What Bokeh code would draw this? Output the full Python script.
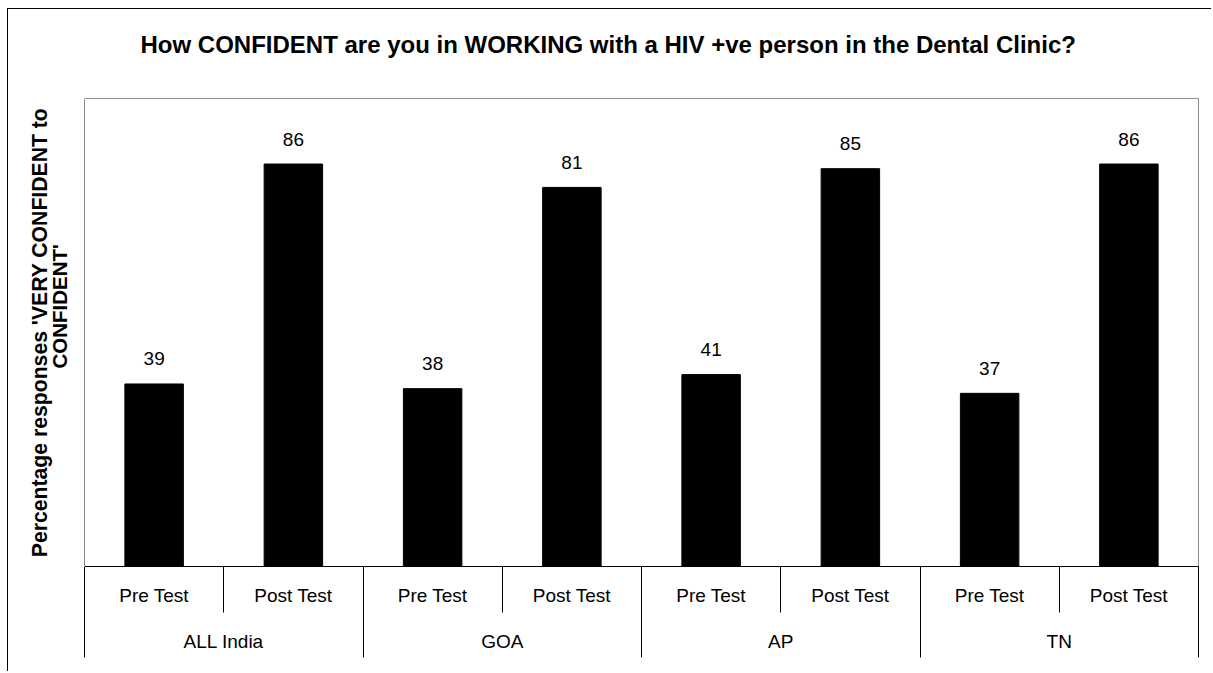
from bokeh.plotting import figure
from bokeh.models import (FactorRange, Range1d, LinearAxis,
                          FixedTicker, Title, ColumnDataSource)
from bokeh.core.properties import value
from bokeh.embed import file_html
from bokeh.resources import INLINE

# ---------------- data ----------------
title_text = "How CONFIDENT are you in WORKING with a HIV +ve person in the Dental Clinic?"
y_title_line1 = "Percentage responses 'VERY CONFIDENT to"
y_title_line2 = "CONFIDENT'"
regions = ["ALL India", "GOA", "AP", "TN"]
tests = ["Pre Test", "Post Test"]
pre_test = [39, 38, 41, 37]
post_test = [86, 81, 85, 86]

# ---------------- build ----------------
factors = [(r, t) for r in regions for t in tests]
values = []
for a, b in zip(pre_test, post_test):
    values += [a, b]
n = len(factors)
n_sub = len(tests)

FONT = "Liberation Sans"

src = ColumnDataSource(dict(x=factors, top=values, label=[str(v) for v in values]))

p = figure(width=1204, height=663,
           x_range=FactorRange(*factors, factor_padding=0, group_padding=0,
                               subgroup_padding=0, range_padding=0),
           y_range=Range1d(0, 100),
           x_axis_location=None, y_axis_location=None,
           toolbar_location=None, output_backend="svg",
           min_border_left=76, min_border_right=14,
           min_border_top=89, min_border_bottom=106,
           styles={"border-left": "1px solid black", "border-top": "1px solid black",
                   "margin-left": "7px", "margin-top": "8px"})
p.background_fill_color = "white"
p.border_fill_color = "white"
p.outline_line_color = "#8c8c8c"
p.outline_line_width = 1
p.grid.visible = False

p.vbar(x="x", top="top", width=0.42, source=src, fill_color="black", line_color="black")
p.text(x="x", y="top", text="label", source=src, text_align="center",
       text_baseline="alphabetic", y_offset=-25, text_font=value(FONT),
       text_font_size="19px", text_color="black")


def spacer_axis(gap):
    # invisible axis used only to reserve space between the frame and a title
    return LinearAxis(ticker=FixedTicker(ticks=[0]),
                      major_tick_out=gap, major_tick_in=0, major_label_standoff=0,
                      major_label_text_font_size="0px", major_label_text_color=None,
                      axis_line_color=None, major_tick_line_color="white",
                      minor_tick_line_color=None)


# --- spacer above + title
p.add_layout(spacer_axis(41), "above")
p.add_layout(Title(text=title_text, align="left", offset=56, standoff=0,
                   text_font=FONT, text_font_size="24px", text_font_style="bold",
                   text_color="black", vertical_align="bottom"), "above")

# --- spacer left + y titles
p.add_layout(spacer_axis(19), "left")
p.add_layout(Title(text=y_title_line2, align="left", offset=198, standoff=-10,
                   text_font=FONT, text_font_size="20.5px", text_font_style="bold",
                   text_color="black", vertical_align="bottom"), "left")
p.add_layout(Title(text=y_title_line1, align="center", offset=0, standoff=0,
                   text_font=FONT, text_font_size="21.2px", text_font_style="bold",
                   text_color="black", vertical_align="bottom"), "left")

# --- category axes below (synthetic factor coordinates: one unit per bar slot)
sub_axis = LinearAxis(
    ticker=FixedTicker(ticks=[i + 0.5 for i in range(n)], minor_ticks=list(range(n + 1))),
    major_label_overrides={i + 0.5: f[1] for i, f in enumerate(factors)},
    major_tick_out=0, major_tick_in=0, major_label_standoff=-28,
    major_tick_line_color=None,
    minor_tick_out=46, minor_tick_in=0, minor_tick_line_color="black",
    axis_line_color="black",
    major_label_text_font=FONT, major_label_text_font_size="19px",
    major_label_text_color="black")
p.add_layout(sub_axis, "below")

grp_axis = LinearAxis(
    ticker=FixedTicker(ticks=[i * n_sub + n_sub / 2 for i in range(len(regions))],
                       minor_ticks=[i * n_sub for i in range(len(regions) + 1)]),
    major_label_overrides={i * n_sub + n_sub / 2: r for i, r in enumerate(regions)},
    major_tick_out=0, major_tick_in=0, major_label_standoff=-27,
    major_tick_line_color=None,
    minor_tick_out=49, minor_tick_in=10, minor_tick_line_color="black",
    axis_line_color=None,
    major_label_text_font=FONT, major_label_text_font_size="19px",
    major_label_text_color="black")
p.add_layout(grp_axis, "below")

open("out.html", "w").write(file_html(p, INLINE))
